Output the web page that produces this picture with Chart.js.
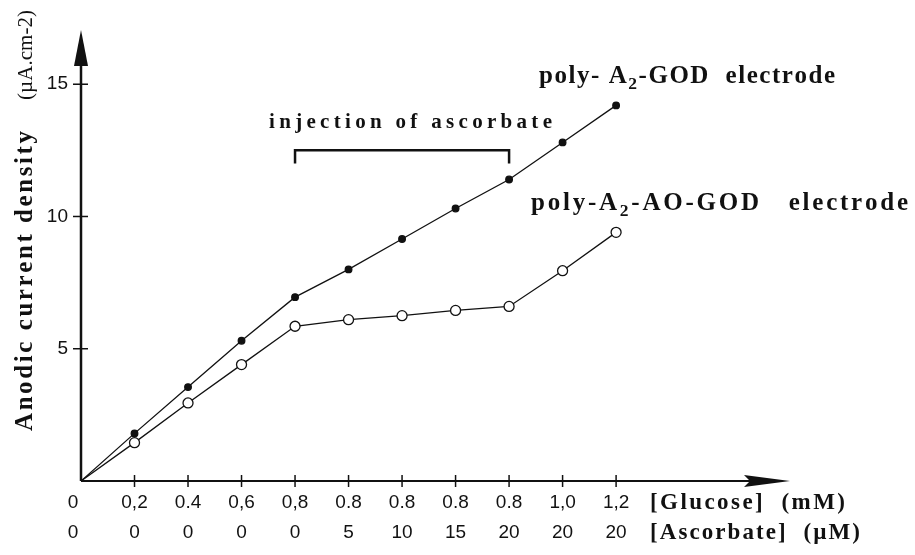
<!DOCTYPE html>
<html>
<head>
<meta charset="utf-8">
<script src="https://cdn.jsdelivr.net/npm/chart.js@4"></script>
<style>
  body { margin: 0; background: #fff; }
  #wrap { width: 915px; height: 555px; }
</style>
</head>
<body>
<div id="wrap"><canvas id="chart" width="915" height="555"></canvas></div>
<script>
// x positions are the measurement steps (index), labelled by two rows
const glucoseLabels = ['0', '0,2', '0.4', '0,6', '0,8', '0.8', '0.8', '0.8', '0.8', '1,0', '1,2'];
const ascorbateLabels = ['0', '0', '0', '0', '0', '5', '10', '15', '20', '20', '20'];
const godValues = [0, 1.8, 3.55, 5.3, 6.95, 8.0, 9.15, 10.3, 11.4, 12.8, 14.2];
const aoGodValues = [0, 1.45, 2.95, 4.4, 5.85, 6.1, 6.25, 6.45, 6.6, 7.95, 9.4];
const yTicks = [5, 10, 15];

const serif = '"Liberation Serif", "DejaVu Serif", serif';
const sans = '"Liberation Sans", Arial, sans-serif';

function toPoints(values) {
    return values.map((v, i) => ({ x: i, y: v }));
}

// draws text made of parts (subscripts allowed), stretched to a given width
function drawSpaced(ctx, parts, x, y, width, size, weight) {
    let natural = 0, count = 0;
    parts.forEach(p => {
        ctx.font = weight + ' ' + (p.sub ? size * 0.7 : size) + 'px ' + serif;
        for (const ch of p.t) { natural += ctx.measureText(ch).width; count++; }
    });
    const gap = count > 1 ? (width - natural) / (count - 1) : 0;
    let cx = x;
    parts.forEach(p => {
        ctx.font = weight + ' ' + (p.sub ? size * 0.7 : size) + 'px ' + serif;
        for (const ch of p.t) {
            ctx.fillText(ch, cx, p.sub ? y + size * 0.22 : y);
            cx += ctx.measureText(ch).width + gap;
        }
    });
}

const axesPlugin = {
    id: 'axesPlugin',
    beforeDatasetsDraw(chart) {
        const ctx = chart.ctx;
        const xs = chart.scales.x, ys = chart.scales.y;
        const x0 = xs.getPixelForValue(0), y0 = ys.getPixelForValue(0);
        ctx.save();
        ctx.strokeStyle = '#111';
        ctx.fillStyle = '#111';

        // y axis with arrow
        ctx.lineWidth = 2.5;
        ctx.beginPath();
        ctx.moveTo(x0, y0);
        ctx.lineTo(x0, ys.top + 30);
        ctx.stroke();
        ctx.beginPath();
        ctx.moveTo(x0, ys.top);
        ctx.lineTo(x0 - 7, ys.top + 36);
        ctx.lineTo(x0 + 7, ys.top + 36);
        ctx.closePath();
        ctx.fill();

        // x axis with arrow
        ctx.lineWidth = 2;
        ctx.beginPath();
        ctx.moveTo(x0, y0);
        ctx.lineTo(xs.right - 40, y0);
        ctx.stroke();
        ctx.beginPath();
        ctx.moveTo(xs.right, y0);
        ctx.lineTo(xs.right - 46, y0 - 6);
        ctx.lineTo(xs.right - 40, y0);
        ctx.lineTo(xs.right - 46, y0 + 6);
        ctx.closePath();
        ctx.fill();

        // y ticks
        ctx.lineWidth = 1.5;
        ctx.font = '19px ' + sans;
        ctx.textAlign = 'right';
        ctx.textBaseline = 'middle';
        yTicks.forEach(t => {
            const py = ys.getPixelForValue(t);
            ctx.beginPath();
            ctx.moveTo(x0 - 8, py);
            ctx.lineTo(x0 + 7, py);
            ctx.stroke();
            ctx.fillText(String(t), x0 - 13, py);
        });

        // x ticks and the two label rows
        ctx.textAlign = 'center';
        glucoseLabels.forEach((lab, i) => {
            const px = xs.getPixelForValue(i);
            if (i > 0) {
                ctx.beginPath();
                ctx.moveTo(px, y0 - 6);
                ctx.lineTo(px, y0 + 6);
                ctx.stroke();
            }
            const off = i === 0 ? -8 : 0;
            ctx.fillText(lab, px + off, y0 + 22);
            ctx.fillText(ascorbateLabels[i], px + off, y0 + 52);
        });

        ctx.textAlign = 'left';
        ctx.textBaseline = 'middle';
        drawSpaced(ctx, [{ t: '[Glucose]  (mM)' }], 650, y0 + 22, 195, 23, 'bold');
        drawSpaced(ctx, [{ t: '[Ascorbate]  (\u00b5M)' }], 650, y0 + 52, 210, 23, 'bold');

        // bracket for the ascorbate injections
        const bx1 = xs.getPixelForValue(4), bx2 = xs.getPixelForValue(8);
        const by = ys.getPixelForValue(12.5), by2 = ys.getPixelForValue(12.0);
        ctx.lineWidth = 2.5;
        ctx.beginPath();
        ctx.moveTo(bx1, by2);
        ctx.lineTo(bx1, by);
        ctx.lineTo(bx2, by);
        ctx.lineTo(bx2, by2);
        ctx.stroke();

        ctx.textBaseline = 'alphabetic';
        drawSpaced(ctx, [{ t: 'injection of ascorbate' }], 269, 128, 283, 21, 'bold');
        drawSpaced(ctx, [{ t: 'poly- A' }, { t: '2', sub: true }, { t: '-GOD  electrode' }], 539, 83, 296, 25, 'bold');
        drawSpaced(ctx, [{ t: 'poly-A' }, { t: '2', sub: true }, { t: '-AO-GOD   electrode' }], 531, 210, 377, 25, 'bold');

        // y axis title, rotated
        ctx.save();
        ctx.translate(32, 0);
        ctx.rotate(-Math.PI / 2);
        drawSpaced(ctx, [{ t: 'Anodic current density' }], -431, 0, 300, 25, 'bold');
        drawSpaced(ctx, [{ t: '(\u00b5A.cm-2)' }], -100, 0, 90, 21, 'normal');
        ctx.restore();

        ctx.restore();
    }
};

new Chart(document.getElementById('chart'), {
    type: 'line',
    data: {
        datasets: [
            {
                label: 'poly-A2-GOD electrode',
                data: toPoints(godValues),
                borderColor: '#111',
                borderWidth: 1.3,
                backgroundColor: '#111',
                pointBackgroundColor: '#111',
                pointBorderColor: '#111',
                pointRadius: c => c.dataIndex === 0 ? 0 : 3.3,
                tension: 0
            },
            {
                label: 'poly-A2-AO-GOD electrode',
                data: toPoints(aoGodValues),
                borderColor: '#111',
                borderWidth: 1.3,
                pointBackgroundColor: '#fff',
                pointBorderColor: '#111',
                pointBorderWidth: 1.3,
                pointRadius: c => c.dataIndex === 0 ? 0 : 5,
                tension: 0
            }
        ]
    },
    options: {
        responsive: false,
        animation: false,
        layout: { padding: { left: 81, right: 125, top: 30, bottom: 74 } },
        plugins: { legend: { display: false }, tooltip: { enabled: false } },
        scales: {
            x: { type: 'linear', min: 0, max: 13.25, display: false },
            y: { min: 0, max: 17.05, display: false }
        }
    },
    plugins: [axesPlugin]
});
</script>
</body>
</html>
